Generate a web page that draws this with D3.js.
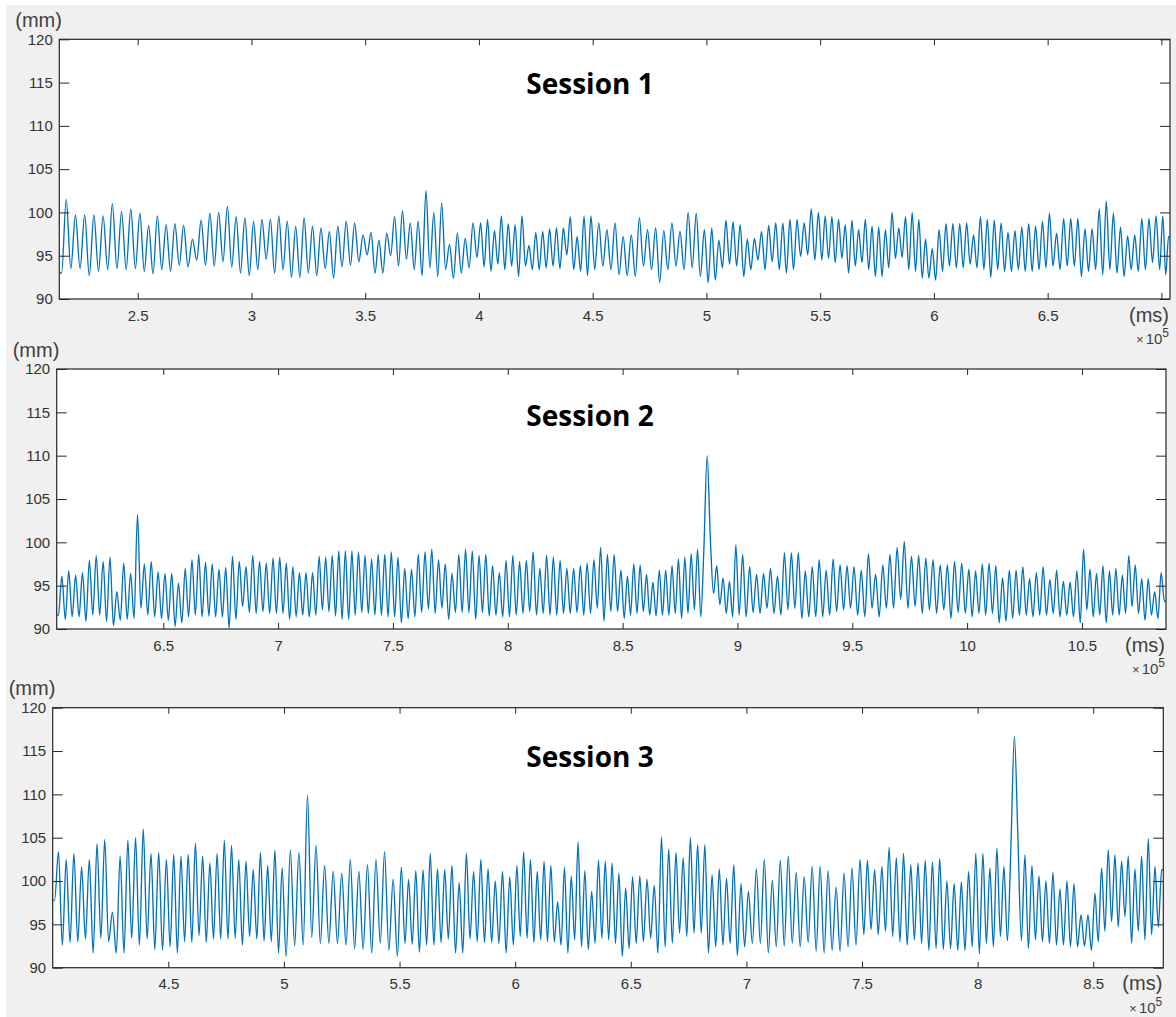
<!DOCTYPE html>
<html>
<head>
<meta charset="utf-8">
<script src="https://cdn.jsdelivr.net/npm/d3@7"></script>
<style>
  html, body { margin: 0; padding: 0; background: #fff; }
  svg { display: block; }
</style>
</head>
<body>
<div id="chart"></div>
<script>
// y axis is the same for all three sessions (mm)
const yTicks = [90, 95, 100, 105, 110, 115, 120];

// x is in units of 1e5 ms; values are the peaks/troughs read per tick interval
const s1Limits = [2.1554, 7.0378];
const s1Ticks = [2.5, 3, 3.5, 4, 4.5, 5, 5.5, 6, 6.5, 7];
const s1Labels = ["2.5", "3", "3.5", "4", "4.5", "5", "5.5", "6", "6.5", ""];
const s1Values = [
  [93, 101.5, 93.5, 99.7, 93.5, 99.7, 92.7, 99.7, 93.2, 99.6, 93.4, 101, 93.5, 100.1, 93.4, 100.4, 93.5],
  [99.9, 93.2, 98.5, 92.9, 99.6, 93.4, 98.6, 93.2, 98.7, 93.9, 98.5, 93.7, 96.9, 94.5, 99.1, 93.9, 99.9, 93.8, 100, 94.3, 100.7, 93.7, 99.5, 93.0, 99.4, 92.7],
  [99.0, 93.4, 99.2, 94.6, 99.2, 93.0, 99.6, 93.4, 99.0, 92.5, 98.4, 92.5, 99.4, 93.0, 98.4, 92.7, 98.2, 93.5, 97.8, 92.4, 98.4, 93.7, 99.0, 93.9, 98.8, 94.3, 97.4],
  [95.1, 97.7, 93.0, 96.8, 93.0, 97.6, 95.0, 99.5, 93.8, 100.2, 94.6, 98.8, 93.4, 99.0, 92.7, 102.5, 93.6, 100.0, 92.6, 101.1, 93.4, 96.3, 92.4, 97.6, 93.0, 97.0, 93.6, 98.8, 94.8],
  [98.8, 93.7, 99.2, 93.2, 97.9, 94.0, 99.6, 93.4, 98.7, 93.8, 98.6, 92.6, 99.6, 93.8, 96.2, 93.4, 97.7, 93.4, 97.8, 93.6, 98.1, 93.8, 98.2, 93.5, 98.2, 95.1, 99.5, 93.4, 97.2, 93.2, 99.6, 92.7, 99.6],
  [93.4, 98.8, 93.8, 98.0, 93.4, 98.8, 92.8, 97.2, 92.7, 97.4, 92.6, 99.4, 93.8, 98.0, 93.4, 98.2, 91.9, 97.9, 93.4, 98.8, 93.8, 97.8, 93.4, 100.0, 93.6, 99.9, 92.6, 98.0],
  [91.9, 98.2, 92.2, 96.8, 93.6, 99.1, 94.0, 98.9, 93.8, 98.6, 92.6, 96.9, 93.4, 97.0, 94.5, 97.8, 93.4, 98.5, 94.3, 98.8, 93.4, 98.8, 93.0, 99.2, 93.4, 99.2, 94.9, 98.8, 95.1, 100.4, 94.5, 100.0],
  [94.5, 99.6, 94.7, 99.5, 94.2, 99.2, 94.7, 98.6, 93.0, 99.1, 93.8, 98.0, 94.2, 99.2, 93.4, 98.4, 92.6, 98.3, 92.6, 98.0, 93.6, 100.0, 94.7, 98.2, 94.8, 99.5, 93.4, 100.0, 93.2, 99.2, 92.4, 96.9, 92.4, 95.8],
  [92.2, 98.0, 93.2, 98.7, 93.8, 98.7, 93.6, 98.7, 93.6, 98.8, 94.0, 97.4, 93.6, 99.5, 93.4, 99.2, 92.5, 99.1, 93.4, 98.8, 93.2, 97.7, 93.2, 97.9, 93.4, 98.3, 93.2, 98.7, 93.2, 98.4, 93.4, 99.0, 93.6],
  [99.9, 93.8, 97.6, 93.4, 99.3, 93.8, 99.3, 93.8, 99.3, 92.6, 98.1, 93.2, 98.1, 93.4, 100.4, 92.8, 101.3, 93.4, 99.9, 93.0, 98.3, 92.6, 97.3, 93.4, 97.4, 93.2, 99.3, 93.4, 99.3, 94.2, 99.6, 93.4],
  [99.6, 92.8, 97.2]
];

const s2Limits = [6.036, 10.866];
const s2Ticks = [6.5, 7, 7.5, 8, 8.5, 9, 9.5, 10, 10.5];
const s2Labels = ["6.5", "7", "7.5", "8", "8.5", "9", "9.5", "10", "10.5"];
const s2Values = [
  [91.6, 96.1, 91.1, 96.7, 91.4, 96.2, 91.4, 96.5, 90.9, 97.9, 91.6, 98.5, 91.6, 97.8, 90.9, 98.3, 90.4, 94.3, 91.0, 97.6, 91.1, 96.4, 91.2, 103.2, 92.4, 97.5, 91.6, 97.8, 91.4, 96.6, 91.2],
  [96.4, 91.0, 96.4, 90.3, 95.3, 90.7, 97.0, 91.4, 98.0, 91.6, 98.6, 91.4, 97.7, 91.5, 97.5, 91.4, 96.9, 91.4, 97.1, 90.1, 98.4, 91.1, 97.8, 92.6, 97.2, 91.9, 98.5, 91.8, 97.8, 92.0, 97.6, 91.8, 98.2, 91.8],
  [98.3, 91.8, 97.6, 91.1, 97.2, 91.4, 96.5, 91.6, 96.5, 91.4, 96.5, 91.6, 98.4, 92.2, 98.3, 92.0, 98.5, 91.5, 99.0, 91.1, 99.0, 91.1, 99.0, 91.6, 98.9, 91.9, 98.5, 91.8, 98.1, 91.6, 98.6, 91.6, 98.6, 91.4, 98.9],
  [91.4, 98.3, 90.7, 97.0, 91.2, 96.9, 91.4, 98.6, 91.9, 98.9, 92.3, 99.2, 91.8, 98.0, 92.4, 97.5, 91.1, 96.4, 91.9, 98.6, 91.9, 99.2, 91.9, 99.0, 91.1, 98.5, 91.9, 98.6, 91.5, 97.3, 91.6, 96.5, 91.4, 97.9],
  [91.4, 98.5, 91.6, 97.8, 91.8, 97.9, 92.0, 98.9, 91.6, 97.0, 91.8, 98.5, 91.6, 98.3, 91.6, 97.9, 91.8, 97.0, 91.8, 97.0, 91.9, 97.3, 91.6, 97.6, 91.8, 98.0, 92.4, 99.4, 90.9, 98.6, 92.0, 98.6, 92.0, 96.8],
  [91.2, 96.1, 91.6, 97.5, 91.8, 97.4, 92.0, 96.3, 91.6, 95.4, 91.5, 96.8, 91.6, 96.8, 91.6, 97.3, 91.8, 98.1, 91.2, 98.3, 91.8, 98.7, 92.2, 99.2, 91.4, 99.5, 110.0, 100.5, 94.1, 97.3, 92.8, 95.9, 91.8, 95.5, 91.4, 99.7],
  [91.6, 98.6, 91.4, 97.2, 91.9, 96.3, 91.8, 96.4, 92.4, 97.0, 91.8, 96.1, 91.6, 98.8, 92.2, 98.8, 92.4, 98.8, 91.2, 96.7, 91.4, 97.2, 91.4, 98.0, 91.4, 96.8, 91.6, 98.1, 92.0, 97.4, 92.2, 97.3, 92.4],
  [97.2, 91.6, 96.8, 91.4, 98.7, 92.4, 96.3, 91.4, 97.4, 92.4, 98.6, 92.4, 99.4, 93.4, 100.1, 92.4, 98.4, 92.6, 98.5, 91.8, 98.2, 92.2, 98.0, 91.8, 97.4, 92.2, 97.4, 91.2, 97.8, 91.9, 97.6, 91.8],
  [96.9, 91.4, 96.7, 91.8, 97.5, 91.6, 97.6, 91.8, 97.3, 90.7, 95.9, 90.9, 96.8, 91.2, 96.8, 91.6, 97.2, 91.6, 95.8, 91.4, 96.5, 91.6, 97.2, 91.6, 95.7, 91.8, 96.8, 91.4, 95.5, 91.6, 95.4, 91.4, 96.7, 90.7],
  [99.2, 92.2, 96.9, 91.4, 96.4, 91.6, 97.3, 90.7, 96.7, 91.6, 97.0, 91.6, 96.2, 91.8, 98.5, 92.6, 97.4, 91.8, 95.8, 91.0, 95.8, 91.6, 94.3, 91.2, 96.5, 93.2]
];

const s3Limits = [4.0, 8.803];
const s3Ticks = [4.5, 5, 5.5, 6, 6.5, 7, 7.5, 8, 8.5];
const s3Labels = ["4.5", "5", "5.5", "6", "6.5", "7", "7.5", "8", "8.5"];
const s3Values = [
  [97.8, 103.4, 92.6, 102.5, 92.9, 103.2, 93.0, 101.6, 93.3, 102.5, 91.7, 104.3, 93.4, 104.8, 93.0, 96.4, 91.7, 102.9, 91.7, 104.7, 93.4, 105.0, 92.6, 106.0, 93.3, 103.2, 92.1, 103.3, 92.0, 102.5],
  [92.4, 103.1, 91.7, 102.9, 93.0, 103.1, 92.9, 104.4, 93.7, 102.9, 92.9, 102.1, 93.3, 103.2, 93.3, 104.7, 93.3, 104.1, 93.4, 102.5, 92.6, 102.3, 93.6, 101.3, 93.3, 103.3, 93.1, 101.8, 93.0, 103.6, 91.7, 101.5],
  [91.3, 103.6, 92.5, 103.3, 92.6, 109.9, 93.5, 104.1, 92.8, 101.8, 92.8, 101.1, 92.8, 100.9, 92.6, 102.5, 92.2, 101.1, 92.1, 101.9, 91.7, 102.5, 92.8, 103.4, 92.0, 100.2, 91.3],
  [101.6, 92.8, 100.2, 92.7, 101.2, 91.8, 101.3, 92.6, 103.2, 92.6, 101.4, 92.9, 101.3, 93.3, 101.8, 91.7, 99.8, 91.7, 103.2, 93.3, 101.1, 93.0, 102.5, 92.9, 101.4, 92.9, 100.0, 92.8, 101.1, 91.7, 100.5, 92.6],
  [101.8, 93.6, 103.4, 93.4, 102.5, 92.9, 101.1, 93.2, 102.3, 93.0, 101.8, 93.0, 97.6, 92.6, 101.6, 91.7, 100.6, 93.2, 104.5, 92.4, 101.2, 92.1, 98.8, 92.8, 102.4, 93.4, 102.3, 93.2, 102.1, 92.8, 100.9, 91.3, 99.2, 92.2],
  [100.5, 92.8, 100.6, 93.0, 100.2, 93.4, 99.5, 91.7, 105.1, 92.4, 103.7, 92.8, 103.3, 94.0, 102.7, 93.6, 105.0, 94.0, 104.2, 94.0, 104.2, 91.7, 100.7, 92.4, 101.4, 92.6, 100.3, 92.8, 101.9, 91.4, 99.7, 92.4],
  [98.8, 92.8, 101.4, 92.8, 102.5, 91.7, 100.1, 92.4, 102.4, 92.5, 102.9, 92.8, 101.0, 92.4, 100.5, 92.9, 101.7, 91.9, 101.7, 91.7, 101.2, 92.0, 99.3, 91.9, 100.9, 92.4, 101.5, 92.6, 102.5],
  [93.8, 102.4, 94.4, 101.3, 93.8, 101.7, 94.2, 103.9, 93.6, 102.7, 93.0, 103.2, 92.6, 101.9, 93.2, 102.1, 92.8, 102.4, 92.0, 102.2, 92.2, 102.6, 92.1, 100.0, 92.2, 99.7, 92.0, 99.9, 92.0, 101.1, 92.4, 103.2],
  [91.6, 103.2, 92.8, 101.5, 92.4, 103.8, 93.6, 101.7, 93.1, 104.0, 116.7, 105.0, 93.1, 103.0, 92.2, 101.8, 93.2, 100.6, 93.0, 100.0, 92.8, 101.0, 92.6, 99.1, 92.6, 100.0, 92.4, 99.7, 92.4, 96.1, 92.5, 96.1, 92.0],
  [98.6, 93.0, 101.5, 94.2, 103.6, 95.3, 103.0, 94.7, 102.3, 95.9, 102.9, 92.8, 101.4, 94.2, 102.9, 93.2, 104.9, 93.8, 101.7, 94.7, 101.3]
];

const W = 1176, H = 1017;
const axisColor = "#262626";
const lineColor = "#0072BD";

const panels = [
  { title: "Session 1", limits: s1Limits, ticks: s1Ticks, labels: s1Labels, values: s1Values,
    left: 59.3, top: 39.3, right: 1170, bottom: 299, titleY: 94 },
  { title: "Session 2", limits: s2Limits, ticks: s2Ticks, labels: s2Labels, values: s2Values,
    left: 56.7, top: 369, right: 1166, bottom: 629, titleY: 426 },
  { title: "Session 3", limits: s3Limits, ticks: s3Ticks, labels: s3Labels, values: s3Values,
    left: 52.7, top: 707.7, right: 1163.3, bottom: 967.7, titleY: 767 }
];

const svg = d3.select("#chart").append("svg")
    .attr("width", W)
    .attr("height", H);

// figure background
svg.append("rect")
    .attr("x", 6).attr("y", 5)
    .attr("width", W - 6).attr("height", H - 5)
    .attr("fill", "#f0f0f0");

panels.forEach((p, k) => {
    const x = d3.scaleLinear().domain(p.limits).range([p.left, p.right]);
    const y = d3.scaleLinear().domain([90, 120]).range([p.bottom, p.top]);

    // extremes are spread evenly inside each tick interval
    const edges = [p.limits[0]].concat(p.ticks.filter(t => t > p.limits[0] && t < p.limits[1]), [p.limits[1]]);
    const pts = [];
    p.values.forEach((seg, i) => {
        const t0 = edges[i], t1 = edges[i + 1], dt = (t1 - t0) / seg.length;
        seg.forEach((v, j) => pts.push([t0 + (j + 0.5) * dt, v]));
    });
    pts.unshift([p.limits[0], pts[0][1]]);
    pts.push([p.limits[1], pts[pts.length - 1][1]]);

    const g = svg.append("g");

    g.append("rect")
        .attr("x", p.left).attr("y", p.top)
        .attr("width", p.right - p.left).attr("height", p.bottom - p.top)
        .attr("fill", "#fff");

    g.append("clipPath").attr("id", "clip" + k)
        .append("rect")
        .attr("x", p.left).attr("y", p.top)
        .attr("width", p.right - p.left).attr("height", p.bottom - p.top);

    const line = d3.line()
        .x(d => x(d[0]))
        .y(d => y(d[1]))
        .curve(d3.curveMonotoneX);

    g.append("path")
        .datum(pts)
        .attr("clip-path", "url(#clip" + k + ")")
        .attr("fill", "none")
        .attr("stroke", lineColor)
        .attr("stroke-width", 1.35)
        .attr("stroke-linejoin", "round")
        .attr("d", line);

    // axes, MATLAB style: ticks inside, mirrored on top and right
    const styleAxis = sel => {
        sel.select(".domain").remove();
        sel.attr("color", axisColor)
            .attr("font-family", "'Liberation Sans', Arial, sans-serif")
            .attr("font-size", 15);
        sel.selectAll("text").attr("fill", "#333");
    };

    g.append("g")
        .attr("transform", `translate(0,${p.bottom})`)
        .call(d3.axisBottom(x).tickValues(p.ticks).tickFormat((d, i) => p.labels[i])
            .tickSizeInner(-6).tickSizeOuter(0).tickPadding(11))
        .call(styleAxis);

    g.append("g")
        .attr("transform", `translate(0,${p.top})`)
        .call(d3.axisTop(x).tickValues(p.ticks).tickFormat("")
            .tickSizeInner(-6).tickSizeOuter(0))
        .call(styleAxis);

    g.append("g")
        .attr("transform", `translate(${p.left},0)`)
        .call(d3.axisLeft(y).tickValues(yTicks).tickFormat(d3.format("d"))
            .tickSizeInner(-10).tickSizeOuter(0).tickPadding(6.5))
        .call(styleAxis);

    g.append("g")
        .attr("transform", `translate(${p.right},0)`)
        .call(d3.axisRight(y).tickValues(yTicks).tickFormat("")
            .tickSizeInner(-10).tickSizeOuter(0))
        .call(styleAxis);

    g.append("rect")
        .attr("x", p.left).attr("y", p.top)
        .attr("width", p.right - p.left).attr("height", p.bottom - p.top)
        .attr("fill", "none")
        .attr("stroke", axisColor)
        .attr("stroke-width", 1.2);

    // unit labels
    g.append("text")
        .text("(mm)")
        .attr("x", p.left - 44)
        .attr("y", p.top - 12.5)
        .attr("font-family", "'Liberation Sans', Arial, sans-serif")
        .attr("font-size", 20)
        .attr("fill", "#404040");

    g.append("text")
        .text("(ms)")
        .attr("x", p.right - 1)
        .attr("y", p.bottom + 22.5)
        .attr("text-anchor", "end")
        .attr("font-family", "'Liberation Sans', Arial, sans-serif")
        .attr("font-size", 20)
        .attr("fill", "#404040");

    const exp = g.append("text")
        .attr("x", p.right - 1)
        .attr("y", p.bottom + 45)
        .attr("text-anchor", "end")
        .attr("font-family", "'Liberation Sans', Arial, sans-serif")
        .attr("font-size", 15)
        .attr("fill", "#404040");
    exp.append("tspan").text("\u00d7").attr("font-size", 13);
    exp.append("tspan").text("10").attr("dx", 2);
    exp.append("tspan").text("5").attr("dy", -7).attr("font-size", 12);

    g.append("text")
        .text(p.title)
        .attr("x", 590)
        .attr("y", p.titleY)
        .attr("text-anchor", "middle")
        .attr("font-family", "'Open Sans', sans-serif")
        .attr("font-weight", 700)
        .attr("font-size", 28)
        .attr("fill", "#000");
});
</script>
</body>
</html>
